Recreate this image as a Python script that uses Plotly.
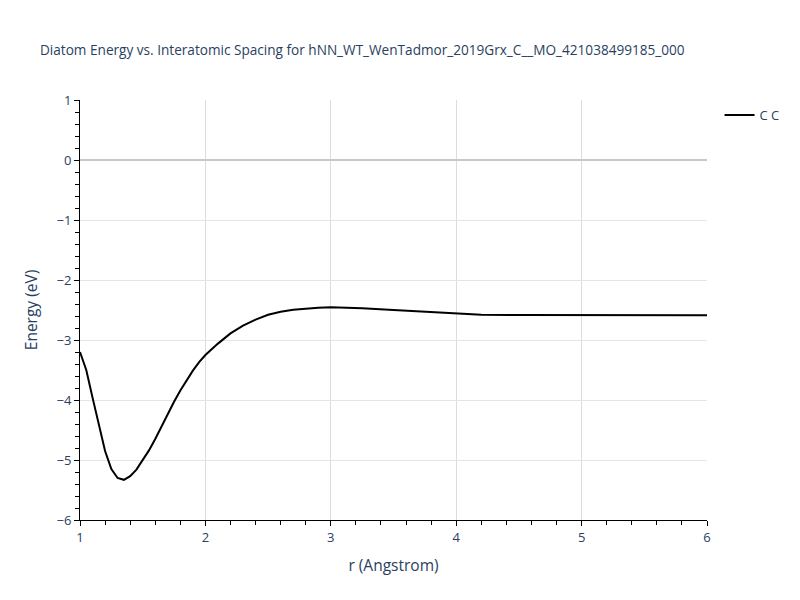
import plotly.graph_objects as go

r_vals = [1.0, 1.05, 1.1, 1.15, 1.2, 1.25, 1.3, 1.35, 1.4, 1.45, 1.5, 1.55, 1.6, 1.65, 1.7,
          1.75, 1.8, 1.85, 1.9, 1.95, 2.0, 2.1, 2.2, 2.3, 2.4, 2.5, 2.6, 2.7, 2.8, 2.9,
          3.0, 3.25, 3.5, 4.0, 4.2, 4.5, 5.0, 5.5, 6.0]
energy = [-3.2, -3.5, -3.96, -4.42, -4.85, -5.15, -5.3, -5.33, -5.27, -5.16, -5.01, -4.84,
          -4.65, -4.44, -4.23, -4.03, -3.84, -3.67, -3.51, -3.37, -3.25, -3.06, -2.89, -2.76,
          -2.66, -2.58, -2.53, -2.495, -2.475, -2.462, -2.455, -2.47, -2.5, -2.555, -2.58,
          -2.583, -2.586, -2.587, -2.588]
series_name = "C C"
title_text = "Diatom Energy vs. Interatomic Spacing for hNN_WT_WenTadmor_2019Grx_C__MO_421038499185_000"

fig = go.Figure()
fig.add_trace(go.Scatter(x=r_vals, y=energy, mode="lines", name=series_name,
                         line=dict(color="black", width=2)))

fig.update_layout(
    template="plotly_white",
    width=800, height=600,
    title=dict(text=title_text, x=0.04, y=0.938, xanchor="left", font=dict(size=13.6)),
    margin=dict(l=72, r=101, t=92, b=88),
    showlegend=True,
    legend=dict(x=1.02, y=1.0, xanchor="left", yanchor="top", font=dict(size=13)),
    xaxis=dict(title=dict(text="r (Angstrom)", font=dict(size=15.5)), range=[1, 6], dtick=1,
               tickfont=dict(size=13),
               showline=True, linecolor="black", ticks="outside", tickcolor="black",
               gridcolor="#dcdcdc", zeroline=False,
               minor=dict(dtick=0.2, ticks="outside", tickcolor="black", ticklen=4, showgrid=False)),
    yaxis=dict(title=dict(text="Energy (eV)", font=dict(size=15.5)), range=[-6, 1], dtick=1,
               tickfont=dict(size=13),
               showline=True, linecolor="black", ticks="outside", tickcolor="black",
               gridcolor="#e5e5e5", zeroline=True, zerolinecolor="#c8c8c8", zerolinewidth=2,
               minor=dict(dtick=0.2, ticks="outside", tickcolor="black", ticklen=4, showgrid=False)),
)

fig.write_html("out.html")
